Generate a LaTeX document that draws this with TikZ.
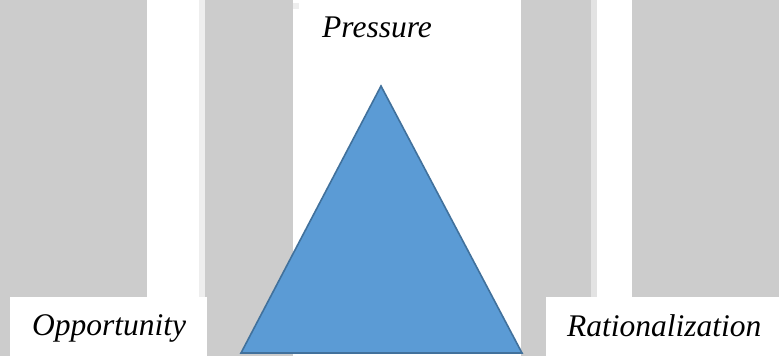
\documentclass[tikz,border=0pt]{standalone}
\usepackage{fontspec}
\setmainfont{Liberation Serif}
\definecolor{barg}{HTML}{CCCCCC}
\definecolor{stripa}{HTML}{EEEEEE}
\definecolor{stripb}{HTML}{E3E3E3}
\definecolor{trifill}{HTML}{5B9BD5}
\definecolor{triline}{HTML}{41719C}
\begin{document}
\begin{tikzpicture}[x=1pt,y=-1pt,
  bar/.style={fill=barg},
  lab/.style={inner sep=0pt, anchor=base west, font=\itshape\fontsize{31.5}{36}\selectfont},
  tri/.style={fill=trifill, draw=triline, line width=1.6pt, line join=miter}]
\useasboundingbox (0,0) rectangle (779,356);
\fill[white] (0,0) rectangle (779,356);
% background bars
\fill[bar] (0,0) rectangle (147,356);
\fill[bar] (205,0) rectangle (293,356);
\fill[bar] (521,0) rectangle (591,356);
\fill[bar] (632,0) rectangle (779,356);
\fill[stripa] (199,0) rectangle (205,356);
\fill[stripb] (591,0) rectangle (597,356);
\fill[stripa] (293,3) rectangle (299,9);
% white label boxes
\fill[white] (10,297) rectangle (207,356);
\fill[white] (546,297) rectangle (779,356);
% triangle
\coordinate (apex) at (381,86);
\coordinate (bl) at (241,353);
\coordinate (br) at (522,353);
\draw[tri] (apex) -- (bl) -- (br) -- cycle;
% labels
\node[lab] (pressure) at (322,37) {Pressure};
\node[lab] (opportunity) at (32,335) {Opportunity};
\node[lab] (rational) at (567,336) {Rationalization};
\end{tikzpicture}
\end{document}
